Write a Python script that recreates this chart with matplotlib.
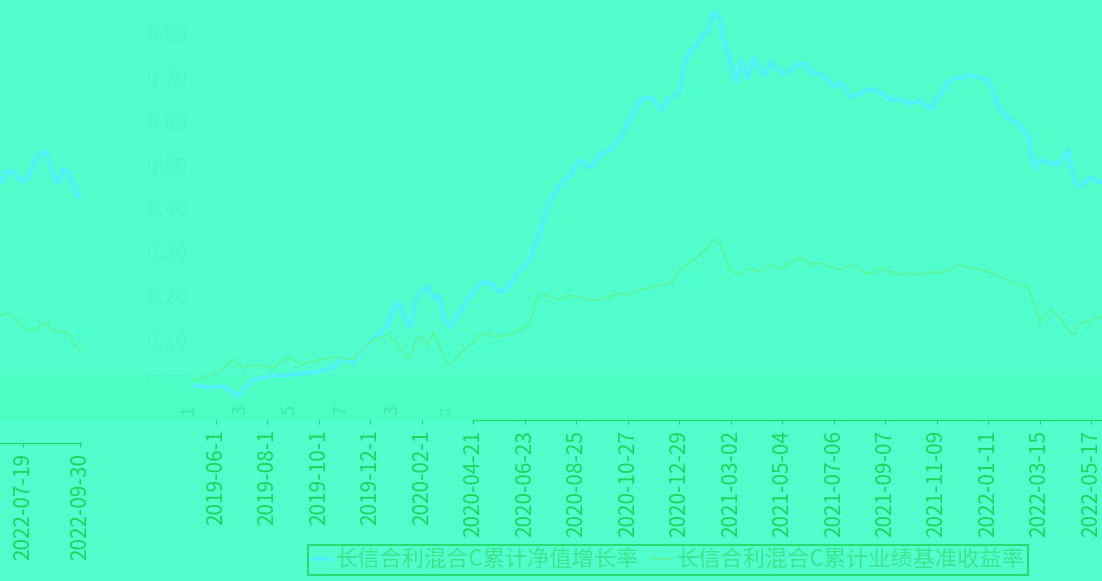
import matplotlib
matplotlib.use("Agg")
import matplotlib.pyplot as plt
from matplotlib.patches import Rectangle

plt.rcParams['font.family'] = ['Noto Sans CJK SC', 'DejaVu Sans']
plt.rcParams['axes.unicode_minus'] = False

# cumulative returns, in percent, one value per period
fund_growth = [
    -0.5, -0.7, -0.9, -1.1, -0.9, -0.7, -1.4, -2.1, -3.0, -1.1,
    0.2, 0.9, 1.1, 1.4, 1.6, 1.8, 1.6, 1.8, 2.1, 2.1,
    2.3, 2.3, 2.7, 3.0, 3.4, 4.1, 5.7, 5.3, 4.6, 6.4,
    7.8, 9.6, 10.7, 11.7, 13.0, 16.7, 18.5, 14.9, 12.6, 19.4,
    21.0, 22.2, 19.4, 19.9, 14.4, 12.6, 14.9, 16.7, 19.0, 20.8,
    22.6, 22.9, 22.9, 21.3, 20.8, 21.9, 23.5, 25.6, 26.7, 28.6,
    32.2, 36.1, 40.2, 43.0, 45.0, 46.4, 47.5, 49.8, 51.0, 49.1,
    49.8, 51.9, 52.8, 53.3, 54.9, 56.5, 59.2, 61.7, 64.5, 65.1,
    65.4, 63.8, 62.4, 64.7, 65.6, 66.3, 73.4, 76.1, 76.8, 79.3,
    80.2, 84.8, 83.4, 77.5, 72.7, 68.8, 73.8, 69.7, 74.3, 71.5,
    70.4, 73.4, 72.0, 70.6, 71.1, 72.0, 72.9, 73.1, 71.1, 70.6,
    70.4, 69.0, 67.7, 68.6, 67.4, 65.4, 65.6, 66.3, 67.2, 67.0,
    66.5, 65.6, 64.7, 64.9, 64.7, 63.8, 64.0, 64.7, 63.5, 62.6,
    64.7, 66.5, 68.6, 69.5, 69.7, 69.9, 70.4, 69.9, 69.5, 69.3,
    65.8, 62.6, 61.3, 60.1, 59.4, 58.1, 56.2, 49.1, 51.0, 50.5,
    50.3, 49.8, 51.0, 53.3, 46.4, 44.8, 45.9, 47.1, 46.2, 45.7,
    48.2, 48.5, 47.1, 45.9, 47.3, 50.5, 52.6, 52.8, 48.7, 45.5,
    48.7, 48.2, 43.9, 42.3,
]
benchmark = [
    0.7, 0.9, 1.1, 1.8, 2.5, 3.0, 3.9, 5.3, 4.1, 3.4,
    3.9, 4.1, 3.9, 3.7, 3.4, 4.3, 5.3, 5.9, 5.0, 4.1,
    4.6, 5.0, 5.3, 5.5, 5.7, 5.9, 5.7, 5.5, 5.3, 6.6,
    8.2, 9.4, 10.1, 10.5, 11.0, 9.8, 8.5, 6.2, 5.7, 9.8,
    10.7, 8.7, 11.7, 8.7, 4.8, 4.1, 5.7, 7.1, 8.2, 9.4,
    10.7, 11.4, 11.0, 10.5, 10.7, 11.0, 11.4, 12.1, 12.6, 13.9,
    19.0, 20.1, 19.9, 19.4, 19.0, 19.7, 20.1, 19.7, 19.4, 19.0,
    19.0, 19.0, 19.4, 19.7, 20.3, 20.3, 20.1, 20.6, 21.3, 21.5,
    21.7, 22.2, 22.4, 22.6, 23.5, 25.6, 26.7, 27.7, 28.6, 29.7,
    31.1, 32.7, 31.8, 28.6, 25.8, 25.1, 24.9, 26.1, 25.8, 25.4,
    26.3, 27.0, 26.3, 26.1, 27.2, 27.9, 28.6, 27.9, 27.0, 27.2,
    27.4, 26.7, 26.3, 25.8, 26.3, 27.0, 26.3, 25.6, 24.9, 25.1,
    26.3, 25.8, 25.4, 24.9, 24.7, 25.1, 24.9, 24.7, 25.1, 25.4,
    25.1, 25.4, 25.6, 26.3, 27.0, 26.5, 26.3, 26.1, 25.8, 25.4,
    24.9, 24.2, 23.8, 23.1, 22.6, 22.2, 21.7, 18.3, 13.9, 15.5,
    16.7, 15.5, 14.4, 12.1, 11.0, 13.5, 13.9, 14.4, 14.9, 15.3,
    16.0, 15.3, 14.2, 12.8, 12.1, 11.9, 13.0, 13.7, 12.1, 11.7,
    11.9, 11.0, 8.7, 7.3,
]
labels = ['长信合利混合C累计净值增长率', '长信合利混合C累计业绩基准收益率']

tick_labels = [
    '2019-06-1', '2019-08-1', '2019-10-1', '2019-12-1', '2020-02-1',
    '2020-04-21', '2020-06-23', '2020-08-25', '2020-10-27', '2020-12-29',
    '2021-03-02', '2021-05-04', '2021-07-06', '2021-09-07', '2021-11-09',
    '2022-01-11', '2022-03-15', '2022-05-17',
]
tail_tick_labels = ['2022-07-19', '2022-09-30']
y_ticks = [0, 10, 20, 30, 40, 50, 60, 70, 80]

bg = '#50ffcc'
cyan = '#55f0ff'
green = '#5cf5a0'
text_green = '#1fd45a'

x = list(range(len(fund_growth)))
first_tick, step = 4, 9
tick_pos = [first_tick + step * k for k in range(len(tick_labels))]
tail_tick_pos = [163, 173]

fig = plt.figure(figsize=(11.02, 5.81), dpi=100, facecolor=bg)
fig.patches.append(Rectangle((0, 161 / 581), 1, 45 / 581, transform=fig.transFigure,
                             facecolor='#4cffc2', edgecolor='none', zorder=0))

# main chart (runs off the right edge)
ax = fig.add_axes([193 / 1102, 161 / 581, 909 / 1102, 420 / 581])
ax.set_zorder(2)
ax.set_facecolor('none')
ax.plot(x, fund_growth, color=cyan, lw=2.8, label=labels[0])
ax.plot(x, benchmark, color=green, lw=1.5, label=labels[1])
ax.set_xlim(0, 158.9)
ax.set_ylim(-8.46, 87.5)
ax.set_xticks(tick_pos)
ax.set_xticklabels(tick_labels, rotation=90, fontsize=15, color=text_green)
ax.set_yticks(y_ticks)
ax.set_yticklabels([f'{v / 100:.2f}' for v in y_ticks], fontsize=15, color='#4ef9c9')
ax.tick_params(axis='y', length=0, pad=4)
ax.tick_params(axis='x', length=3, color=text_green, pad=4)
for s in ['top', 'right', 'left']:
    ax.spines[s].set_visible(False)
ax.spines['bottom'].set_color(text_green)
ax.spines['bottom'].set_bounds(tick_pos[5], 158.9)

# wrapped tail of the chart at the far left
ax2 = fig.add_axes([0, 138 / 581, 81 / 1102, 443 / 581])
ax2.set_zorder(2)
ax2.set_facecolor('none')
ax2.plot(x, fund_growth, color=cyan, lw=2.8)
ax2.plot(x, benchmark, color=green, lw=1.5)
ax2.set_xlim(158.9, 173.1)
ax2.set_ylim(-13.7, 87.5)
ax2.set_xticks(tail_tick_pos)
ax2.set_xticklabels(tail_tick_labels, rotation=90, fontsize=15, color=text_green)
ax2.set_yticks([])
ax2.tick_params(axis='x', length=3, color=text_green, pad=4)
for s in ['top', 'right', 'left']:
    ax2.spines[s].set_visible(False)
ax2.spines['bottom'].set_color(text_green)

# faint leftover label fragments
for xp, t in zip([188, 240, 290, 341, 393, 445], ['1', '3', '5', '7', '3', '::']):
    fig.text(xp / 1102, 1 - 410 / 581, t, rotation=90, fontsize=13, color='#3fe6ad',
             ha='center', va='center')

h, l = ax.get_legend_handles_labels()
leg = fig.legend(h, l, loc='center', bbox_to_anchor=(668 / 1102, 1 - 560 / 581), ncol=2,
                 fontsize=16, frameon=True, fancybox=False, facecolor=bg, edgecolor=text_green,
                 labelcolor='#3ee38c', handlelength=0.9, handletextpad=0.2,
                 columnspacing=0.6, borderpad=0.15, borderaxespad=0)
leg.get_frame().set_linewidth(1.5)

fig.savefig('out.png', dpi=100, facecolor=bg)
